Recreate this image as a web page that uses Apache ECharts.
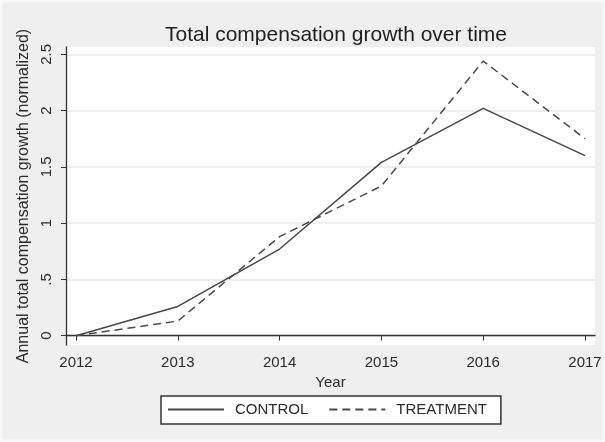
<!DOCTYPE html>
<html><head><meta charset="utf-8">
<script src="https://cdn.jsdelivr.net/npm/echarts@6/dist/echarts.min.js"></script>
<style>html,body{margin:0;padding:0;background:#fff}#c{width:605px;height:442px}</style>
</head><body><div id="c"></div>
<script>
const years = [2012, 2013, 2014, 2015, 2016, 2017];
const control = [0, 0.26, 0.77, 1.54, 2.02, 1.60];
const treatment = [0, 0.13, 0.88, 1.33, 2.44, 1.75];
const yTicks = [0, 0.5, 1, 1.5, 2, 2.5];
const yTickLabels = ['0', '.5', '1', '1.5', '2', '2.5'];

const font = 'Liberation Sans, Arial, sans-serif';
const ink = '#2b2b2b';
const chart = echarts.init(document.getElementById('c'));
chart.setOption({
  backgroundColor: '#efefef',
  animation: false,
  graphic: [{
    type: 'rect', silent: true, z: -10,
    shape: { x: 0, y: 0, width: 605, height: 442 },
    style: { fill: 'none', stroke: '#f8f8f8', lineWidth: 5 }
  }],
  title: {
    text: 'Total compensation growth over time',
    left: 331, top: 20, textAlign: 'center',
    textStyle: { fontFamily: font, fontSize: 21, fontWeight: 'normal', color: '#1e1e1e' }
  },
  grid: { left: 66, right: 10, top: 47, bottom: 97, show: true, backgroundColor: '#fff', borderWidth: 0 },
  xAxis: {
    type: 'value', min: 2011.902, max: 2017.098,
    name: 'Year', nameLocation: 'middle', nameGap: 26,
    nameTextStyle: { fontFamily: font, fontSize: 15, color: ink },
    axisLine: { lineStyle: { color: '#333', width: 1.3 } },
    axisTick: { show: true, length: 5, customValues: years, lineStyle: { color: '#333' } },
    axisLabel: { customValues: years, fontFamily: font, fontSize: 15, color: ink, margin: 10, formatter: v => String(v) },
    splitLine: { show: false }
  },
  yAxis: {
    type: 'value', min: -0.0826, max: 2.565,
    name: 'Annual total compensation growth (normalized)', nameLocation: 'middle', nameGap: 28,
    nameTextStyle: { fontFamily: font, fontSize: 16, color: ink },
    axisLine: { show: true, lineStyle: { color: '#333', width: 1.3 } },
    axisTick: { show: true, length: 5, customValues: yTicks, lineStyle: { color: '#333' } },
    axisLabel: { customValues: yTicks, rotate: 90, fontFamily: font, fontSize: 15, color: ink, margin: 12,
      formatter: v => { const i = yTicks.indexOf(v); return i >= 0 ? yTickLabels[i] : ''; } },
    splitLine: { show: true, lineStyle: { color: '#e8e8e8', width: 1.5 } }
  },
  legend: {
    left: 161, top: 396,
    backgroundColor: '#fff', borderColor: '#333', borderWidth: 1.5, borderRadius: 0,
    padding: [6, 14, 7, 6], itemGap: 20, itemWidth: 56, itemHeight: 12,
    itemStyle: { color: 'transparent', borderColor: 'transparent', borderWidth: 0 },
    textStyle: { fontFamily: font, fontSize: 15, color: ink, padding: [0, 0, 0, 6] },
    data: ['CONTROL', 'TREATMENT']
  },
  series: [
    { name: 'CONTROL', type: 'line', symbol: 'none', data: years.map((y, i) => [y, control[i]]),
      lineStyle: { color: '#474747', width: 1.5, type: 'solid' }, itemStyle: { color: '#474747' } },
    { name: 'TREATMENT', type: 'line', symbol: 'none', data: years.map((y, i) => [y, treatment[i]]),
      lineStyle: { color: '#4a4a4a', width: 1.5, type: [8, 5] }, itemStyle: { color: '#4a4a4a' } }
  ]
});
</script></body></html>
